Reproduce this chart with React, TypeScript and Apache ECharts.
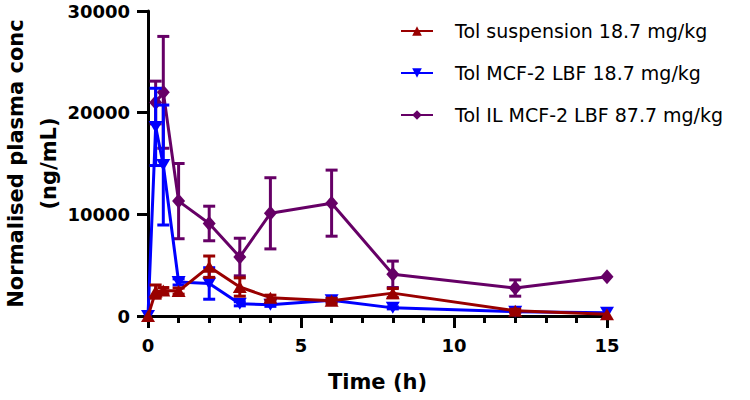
import React, { useEffect, useRef } from "react";
import * as echarts from "echarts";

const timeH = [0, 0.25, 0.5, 1, 2, 3, 4, 6, 8, 12, 15];

const seriesNames = [
  "Tol suspension 18.7 mg/kg",
  "Tol MCF-2 LBF 18.7 mg/kg",
  "Tol IL MCF-2 LBF 87.7 mg/kg",
];

const suspensionMean = [0, 2400, 2500, 2450, 4850, 2850, 1800, 1500, 2250, 520, 170];
const suspensionSD = [0, 650, 300, 300, 1050, 900, 250, 250, 450, 150, 0];

const mcfMean = [0, 18600, 14850, 3350, 3200, 1200, 1100, 1550, 800, 420, 330];
const mcfSD = [0, 3800, 5900, 300, 1550, 200, 150, 150, 100, 50, 0];

const ilMean = [null, 21000, 22000, 11300, 9100, 5800, 10100, 11100, 4100, 2750, 3850];
const ilSD = [null, 2100, 5500, 3700, 1700, 1850, 3500, 3250, 1300, 800, 0];

const yTicks = [0, 10000, 20000, 30000];
const xTicks = [0, 5, 10, 15];

const colors = ["#990000", "#0000FF", "#660066"];

const FONT = "DejaVu Sans";

function pointData(means: (number | null)[]) {
  const out: number[][] = [];
  timeH.forEach((t, i) => {
    const v = means[i];
    if (v !== null && v !== undefined) out.push([t, v]);
  });
  return out;
}

function errorData(means: (number | null)[], sds: (number | null)[]) {
  const out: number[][] = [];
  timeH.forEach((t, i) => {
    const m = means[i];
    const s = sds[i];
    if (m !== null && m !== undefined && s) out.push([t, m - s, m + s]);
  });
  return out;
}

function errorSeries(name: string, color: string, means: (number | null)[], sds: (number | null)[], z: number) {
  return {
    type: "custom",
    name: name + " error",
    data: errorData(means, sds),
    encode: { x: 0, y: [1, 2] },
    z,
    silent: true,
    clip: false,
    renderItem: (params: any, api: any) => {
      const x = api.value(0);
      const lo = api.coord([x, api.value(1)]);
      const hi = api.coord([x, api.value(2)]);
      const hw = 6;
      const style = { stroke: color, lineWidth: 3, fill: "none" };
      return {
        type: "group",
        children: [
          { type: "line", shape: { x1: hi[0], y1: hi[1], x2: lo[0], y2: lo[1] }, style },
          { type: "line", shape: { x1: hi[0] - hw, y1: hi[1], x2: hi[0] + hw, y2: hi[1] }, style },
          { type: "line", shape: { x1: lo[0] - hw, y1: lo[1], x2: lo[0] + hw, y2: lo[1] }, style },
        ],
      };
    },
  };
}

function lineSeries(name: string, color: string, means: (number | null)[], symbol: string, size: number[], rotate: number, z: number) {
  return {
    type: "line",
    name,
    data: pointData(means),
    symbol,
    symbolSize: size,
    symbolRotate: rotate,
    showAllSymbol: true,
    z,
    clip: false,
    lineStyle: { color, width: 3 },
    itemStyle: { color, borderWidth: 0 },
  };
}

export default function App() {
  const ref = useRef<HTMLDivElement>(null);
  useEffect(() => {
    const chart = echarts.init(ref.current!, null, { renderer: "svg" });
    const axisLabelStyle = {
      color: "#000",
      fontFamily: FONT,
      fontWeight: "bold",
      fontSize: 18,
    };
    const option: any = {
      animation: false,
      backgroundColor: "#fff",
      grid: { left: 148, right: 143, top: 11, bottom: 84, containLabel: false, outerBoundsMode: "none" },
      legend: {
        data: seriesNames,
        orient: "vertical",
        left: 395,
        top: 15,
        itemWidth: 32,
        itemHeight: 12,
        itemGap: 20,
        textStyle: {
          color: "#000",
          fontFamily: FONT,
          fontSize: 19,
          lineHeight: 22,
          padding: [0, 0, 0, 17],
        },
      },
      xAxis: {
        type: "value",
        min: xTicks[0],
        max: xTicks[xTicks.length - 1],
        interval: xTicks[1] - xTicks[0],
        name: "Time (h)",
        nameLocation: "middle",
        nameGap: 55,
        nameMoveOverlap: false,
        nameTextStyle: { color: "#000", fontFamily: FONT, fontWeight: "bold", fontSize: 21 },
        axisLine: { show: true, onZero: false, lineStyle: { color: "#000", width: 3 } },
        axisTick: { show: true, length: 12, lineStyle: { color: "#000", width: 3 } },
        minorTick: { show: true, splitNumber: 5, length: 7, lineStyle: { color: "#000", width: 3 } },
        splitLine: { show: false },
        minorSplitLine: { show: false },
        axisLabel: { ...axisLabelStyle, margin: 20 },
      },
      yAxis: {
        type: "value",
        min: yTicks[0],
        max: yTicks[yTicks.length - 1],
        interval: yTicks[1] - yTicks[0],
        name: "Normalised plasma conc\n(ng/mL)",
        nameLocation: "middle",
        nameGap: 83,
        nameMoveOverlap: false,
        nameTextStyle: { color: "#000", fontFamily: FONT, fontWeight: "bold", fontSize: 21, lineHeight: 33 },
        axisLine: { show: true, onZero: false, lineStyle: { color: "#000", width: 3 } },
        axisTick: { show: true, length: 11, lineStyle: { color: "#000", width: 3 } },
        splitLine: { show: false },
        axisLabel: { ...axisLabelStyle, margin: 18, formatter: (v: number) => String(v) },
      },
      series: [
        errorSeries(seriesNames[2], colors[2], ilMean, ilSD, 2),
        lineSeries(seriesNames[2], colors[2], ilMean, "diamond", [13, 15], 0, 3),
        errorSeries(seriesNames[1], colors[1], mcfMean, mcfSD, 4),
        lineSeries(seriesNames[1], colors[1], mcfMean, "triangle", [14, 12], 180, 5),
        errorSeries(seriesNames[0], colors[0], suspensionMean, suspensionSD, 6),
        lineSeries(seriesNames[0], colors[0], suspensionMean, "triangle", [14, 12], 0, 7),
      ],
    };
    chart.setOption(option);
    return () => chart.dispose();
  }, []);
  return (
    <div
      ref={ref}
      style={{ position: "absolute", left: 0, top: 0, width: 750, height: 400 }}
    />
  );
}
